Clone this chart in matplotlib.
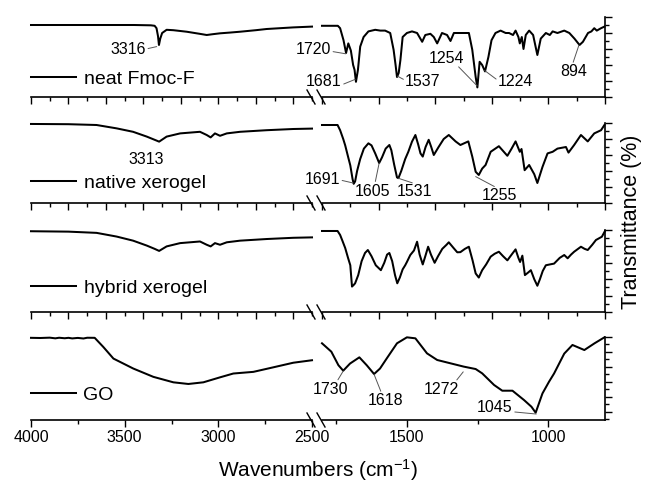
import matplotlib
matplotlib.use('Agg')
import matplotlib.pyplot as plt
from matplotlib.ticker import MultipleLocator, FixedLocator
from matplotlib.lines import Line2D

plt.rcParams['font.family'] = ['Liberation Sans', 'DejaVu Sans']
plt.rcParams['mathtext.fontset'] = 'custom'
plt.rcParams['mathtext.rm'] = 'Liberation Sans'
plt.rcParams['mathtext.it'] = 'Liberation Sans:italic'

# ---------------- data (transmittance, arbitrary offset units 0-100 per panel) ----------------
series_labels = ['neat Fmoc-F', 'native xerogel', 'hybrid xerogel', 'GO']

fmoc_left_wn = [4000, 3800, 3600, 3450, 3360, 3340, 3330, 3322, 3317, 3310, 3300, 3276, 3240, 3169, 3100, 3062, 3030, 2991, 2940, 2884, 2800, 2742, 2650, 2600, 2500]
fmoc_left_t = [90, 90, 90, 90, 89.6, 89, 86, 76, 65, 73, 80, 84, 83.5, 81.6, 79, 77.5, 78.5, 79.6, 80.5, 81.6, 83.5, 85, 86.3, 87, 88]
fmoc_right_wn = [1800, 1744, 1736, 1724, 1715, 1707, 1698, 1690, 1685, 1680, 1673, 1665, 1653, 1636, 1612, 1594, 1577, 1559, 1547, 1540, 1535, 1529, 1523, 1515, 1500, 1482, 1464, 1446, 1435, 1417, 1405, 1393, 1376, 1358, 1346, 1334, 1305, 1281, 1269, 1257, 1251, 1243, 1234, 1224, 1212, 1201, 1187, 1169, 1151, 1139, 1125, 1116, 1106, 1101, 1094, 1088, 1080, 1068, 1054, 1039, 1027, 1009, 995, 985, 968, 944, 926, 908, 890, 878, 860, 848, 838, 829, 814, 802]
fmoc_right_t = [89, 89, 86, 71, 55, 67, 58, 40, 34, 19, 34, 63, 75, 82, 84, 83, 83, 80, 59, 40, 25, 30, 46, 75, 80, 82, 80, 69, 77.5, 79, 75, 67, 80, 77.5, 70, 80, 80, 80, 59, 25, 12, 44, 40, 32, 50, 71, 80, 83, 80, 80, 77.5, 83, 75, 67, 75, 60, 77.5, 83, 77.5, 52.5, 73, 80, 77.5, 82, 80, 83, 80, 73, 65, 69, 80, 82, 86, 83, 86, 88]

native_left_wn = [4000, 3800, 3650, 3543, 3455, 3382, 3340, 3316, 3276, 3204, 3098, 3062, 3041, 3018, 2991, 2955, 2884, 2742, 2600, 2500]
native_left_t = [98.8, 98.5, 97.5, 93.3, 89, 83, 79, 76.7, 83, 87, 89, 85, 82, 87, 84, 87, 89, 91, 92.5, 93]
native_right_wn = [1800, 1745, 1736, 1725, 1718, 1708, 1700, 1692, 1688, 1683, 1676, 1665, 1652, 1636, 1625, 1612, 1598, 1588, 1575, 1562, 1555, 1545, 1535, 1530, 1520, 1506, 1495, 1482, 1470, 1460, 1452, 1444, 1434, 1423, 1414, 1405, 1388, 1370, 1352, 1328, 1311, 1283, 1269, 1257, 1246, 1234, 1222, 1204, 1175, 1160, 1145, 1130, 1116, 1101, 1095, 1084, 1068, 1050, 1039, 1021, 1003, 985, 968, 938, 929, 909, 885, 873, 861, 838, 814, 802]
native_right_t = [97.5, 97.5, 91, 80, 72, 58, 47, 30, 24, 27, 40, 55, 68, 74.6, 72, 62, 50, 57, 68, 72.5, 66, 48, 32, 31, 40, 55, 64, 76.7, 85, 73, 62, 58, 70, 79, 70, 60, 70, 80, 85, 77, 72.5, 77, 58, 39, 35, 43, 47.5, 64, 71, 65, 59, 68, 77, 64, 67.5, 41, 47.5, 36, 25, 45, 62, 64, 68, 70, 63, 72.5, 85, 81, 77, 87, 91, 97.5]

hybrid_left_wn = [4000, 3800, 3650, 3543, 3455, 3382, 3340, 3316, 3276, 3204, 3098, 3062, 3041, 3018, 2991, 2955, 2884, 2742, 2600, 2500]
hybrid_left_t = [98.5, 98, 96.5, 92, 87, 81, 77, 74.5, 80, 84, 86, 82, 80, 84, 82, 85, 87, 89, 90.5, 91]
hybrid_right_wn = [1800, 1745, 1736, 1728, 1718, 1708, 1700, 1694, 1688, 1683, 1672, 1660, 1648, 1638, 1625, 1610, 1592, 1580, 1570, 1562, 1552, 1542, 1534, 1525, 1515, 1506, 1500, 1488, 1475, 1464, 1455, 1444, 1435, 1425, 1415, 1402, 1390, 1375, 1360, 1352, 1335, 1322, 1311, 1295, 1281, 1268, 1257, 1246, 1234, 1220, 1204, 1190, 1175, 1160, 1145, 1130, 1116, 1106, 1100, 1092, 1083, 1072, 1062, 1050, 1039, 1030, 1020, 1009, 995, 980, 960, 944, 932, 920, 909, 885, 872, 861, 845, 832, 811, 800]
hybrid_right_t = [98.8, 98.8, 94, 87, 78, 66, 57, 31, 33, 35, 45, 62, 72, 75.6, 68, 57, 51, 60, 70, 72, 62, 45, 35, 42, 52, 57, 61, 69.5, 75, 85.7, 70, 58, 68, 79.6, 70, 60, 68, 77, 82, 85, 78, 72.8, 73, 77, 79.6, 63, 47, 42, 51, 58, 67.5, 71, 73.5, 68, 63, 70, 76.4, 66, 61, 68.7, 45, 48, 51, 40, 32, 40, 50, 57, 58, 59, 66, 69.5, 65.5, 70, 73.5, 79.6, 77, 75.6, 82, 87.8, 91.8, 98.8]

go_left_wn = [4000, 3950, 3900, 3870, 3850, 3820, 3800, 3780, 3750, 3720, 3700, 3660, 3614, 3560, 3454, 3347, 3240, 3160, 3080, 2991, 2920, 2813, 2706, 2600, 2500]
go_left_t = [99, 98.8, 99.2, 98.4, 99.1, 98.5, 99, 98.3, 98.9, 98.2, 99.1, 99, 88, 74, 62, 52, 45.4, 43.4, 45.4, 51.4, 56, 58, 63.5, 69, 72]
go_right_wn = [1800, 1767, 1742, 1725, 1701, 1668, 1642, 1616, 1595, 1571, 1535, 1500, 1470, 1429, 1393, 1346, 1299, 1257, 1234, 1192, 1163, 1127, 1086, 1060, 1045, 1021, 998, 980, 944, 915, 873, 837, 802]
go_right_t = [92.4, 82.3, 66, 59.4, 68, 75.5, 66, 55.4, 62, 74.3, 92.4, 99.6, 98.4, 80.3, 72.3, 68.3, 64.3, 61.4, 56.2, 42.2, 35.3, 35.3, 24, 16, 8.8, 32, 46, 56, 80, 90.4, 84.3, 92.4, 99.6]

# annotations: (text, peak wn, peak value, text wn, text value, ha, relpos, side)
fmoc_notes = [('3316', 3329, 63, 3386, 60, 'right', (1, 0.5), 'L'),
              ('1720', 1716, 54, 1768, 59, 'right', (1, 0.4), 'R'),
              ('1681', 1683, 22, 1730, 19, 'right', (1, 0.3), 'R'),
              ('1537', 1533, 26, 1506, 19, 'left', (0, 0.6), 'R'),
              ('1254', 1252, 14, 1360, 48, 'center', (0.8, 0.05), 'R'),
              ('1224', 1225, 33, 1179, 19, 'left', (0, 0.6), 'R'),
              ('894', 892, 65, 910, 31.6, 'center', (0.45, 1), 'R')]
native_notes = [('3313', None, None, 3386, 53.75, 'center', None, 'L'),
                ('1691', 1690, 25, 1736, 28.75, 'right', (1, 0.5), 'R'),
                ('1605', 1598, 50, 1623, 15, 'center', (0.58, 1), 'R'),
                ('1531', 1531, 31, 1474, 15, 'center', (0.5, 1), 'R'),
                ('1255', 1257, 33, 1172, 10, 'center', (0.4, 1), 'R')]
hybrid_notes = []
go_notes = [('1730', 1725, 59, 1770, 37.3, 'center', (0.68, 1), 'R'),
            ('1618', 1616, 55, 1577, 23.3, 'center', (0.4, 1), 'R'),
            ('1272', 1301, 58, 1378, 37.3, 'center', (0.9, 1), 'R'),
            ('1045', 1043, 7.2, 1126, 15.3, 'right', (1, 0.2), 'R')]

left_data = [(fmoc_left_wn, fmoc_left_t), (native_left_wn, native_left_t),
             (hybrid_left_wn, hybrid_left_t), (go_left_wn, go_left_t)]
right_data = [(fmoc_right_wn, fmoc_right_t), (native_right_wn, native_right_t),
              (hybrid_right_wn, hybrid_right_t), (go_right_wn, go_right_t)]
notes = [fmoc_notes, native_notes, hybrid_notes, go_notes]
legend_y = [0.22, 0.246, 0.296, 0.30]

# ---------------- layout (pixels) ----------------
W, H = 648, 482
fig = plt.figure(figsize=(W / 100, H / 100), dpi=100)
panel_px = [(17, 97), (123, 203), (230, 312), (337, 420)]
lx0, lx1 = 31, 312
rx0, rx1 = 322, 605
LW = 1.45
SPW = 1.2

def frac_box(x0, x1, top, bot):
    return [x0 / W, 1 - bot / H, (x1 - x0) / W, (bot - top) / H]

for i, (top, bot) in enumerate(panel_px):
    is_go = (i == 3)
    axL = fig.add_axes(frac_box(lx0, lx1, top, bot))
    axR = fig.add_axes(frac_box(rx0, rx1, top, bot))
    for ax in (axL, axR):
        ax.set_ylim(0, 100)
        ax.patch.set_alpha(0)
        for s in ('top', 'left', 'right'):
            ax.spines[s].set_visible(False)
        ax.spines['bottom'].set_linewidth(SPW)
        ax.tick_params(axis='x', which='both', direction='out', width=1.0, labelsize=11.5, pad=2.5)
        ax.tick_params(axis='x', which='major', length=5)
        ax.tick_params(axis='x', which='minor', length=3)
    axR.spines['right'].set_visible(True)
    axR.spines['right'].set_linewidth(SPW)
    axL.set_yticks([])
    axL.set_xlim(4000, 2500)
    axR.set_xlim(1800, 800)
    axR.yaxis.tick_right()
    axR.tick_params(axis='y', which='both', direction='out', width=1.0, labelright=False, right=True, left=False)
    axR.tick_params(axis='y', which='major', length=5)
    axR.tick_params(axis='y', which='minor', length=3)
    if is_go:
        axL.xaxis.set_major_locator(MultipleLocator(500))
        axL.xaxis.set_minor_locator(MultipleLocator(250))
        axR.xaxis.set_major_locator(MultipleLocator(500))
        axR.xaxis.set_minor_locator(MultipleLocator(250))
        axR.yaxis.set_major_locator(FixedLocator([10, 28, 46, 64, 82, 100]))
        axR.yaxis.set_minor_locator(FixedLocator([1, 19, 37, 55, 73, 91]))
    else:
        axL.xaxis.set_major_locator(MultipleLocator(200))
        axL.xaxis.set_minor_locator(MultipleLocator(100))
        axR.xaxis.set_major_locator(MultipleLocator(200))
        axR.xaxis.set_minor_locator(MultipleLocator(100))
        axR.yaxis.set_major_locator(MultipleLocator(20))
        axR.yaxis.set_minor_locator(MultipleLocator(10))
        axL.tick_params(axis='x', labelbottom=False)
        axR.tick_params(axis='x', labelbottom=False)

    wl, tl = left_data[i]
    wr, tr = right_data[i]
    line, = axL.plot(wl, tl, color='black', lw=LW, solid_joinstyle='round', clip_on=False)
    axR.plot(wr, tr, color='black', lw=LW, solid_joinstyle='round', clip_on=False)

    axL.legend([line], [series_labels[i]], loc='center left', bbox_to_anchor=(0.0, legend_y[i]),
               frameon=False, fontsize=14, handlelength=2.3, handletextpad=0.4,
               borderpad=0, borderaxespad=0)

    for (txt, px, pv, tx, tv, ha, rel, side) in notes[i]:
        ax = axL if side == 'L' else axR
        if px is None:
            ax.text(tx, tv, txt, ha=ha, va='center', fontsize=11.5, clip_on=False)
        else:
            ax.annotate(txt, xy=(px, pv), xytext=(tx, tv), ha=ha, va='center', fontsize=11.5,
                        annotation_clip=False,
                        arrowprops=dict(arrowstyle='-', color='#555555', lw=0.7, relpos=rel,
                                        patchA=None, shrinkA=1.5, shrinkB=0))

    # axis break marks on the bottom spine
    yb = H - bot
    for xc in (lx1 - 1, rx0 - 1):
        fig.add_artist(Line2D([(xc - 4) / W, (xc + 4) / W], [(yb + 7) / H, (yb - 7) / H],
                              transform=fig.transFigure, color='black', lw=1.0))

fig.text(318 / W, 1 - 477 / H, 'Wavenumbers (cm$^{-1}$)', ha='center', va='baseline', fontsize=15)
fig.text(631 / W, 1 - 222 / H, 'Transmittance (%)', ha='center', va='center', rotation=90, fontsize=15.5)

fig.savefig('out.png', dpi=100)
